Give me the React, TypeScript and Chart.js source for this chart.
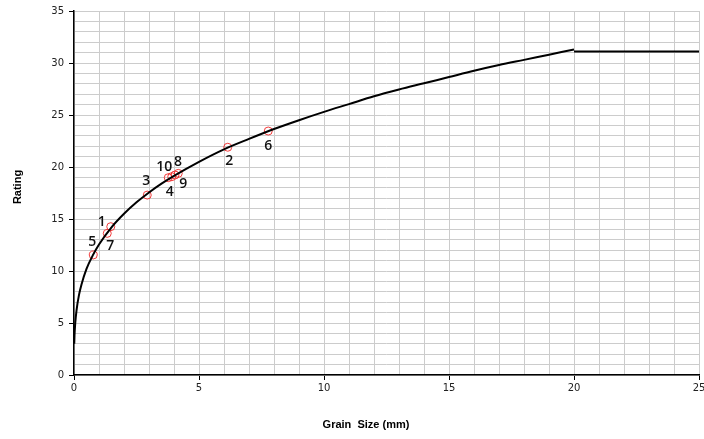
import React, { useEffect, useRef } from "react";
import { Chart, registerables } from "chart.js";

Chart.register(...registerables);

// Fitted curve
const curveX = [0.01, 0.02, 0.05, 0.1, 0.2, 0.3, 0.5, 0.75, 1, 1.5, 2, 2.5, 3, 3.5, 4, 5, 6, 7, 8, 9, 10, 11, 12, 13, 14, 15, 16, 17, 18, 19, 20];
const curveY = [3.0, 3.8, 5.0, 6.2, 7.7, 8.7, 10.2, 11.5, 12.55, 14.2, 15.5, 16.6, 17.55, 18.4, 19.15, 20.5, 21.7, 22.7, 23.65, 24.5, 25.3, 26.05, 26.8, 27.45, 28.05, 28.65, 29.25, 29.8, 30.3, 30.8, 31.3];

// Flat segment after 20 mm
const flatX = [20, 25];
const flatY = [31.1, 31.1];

// Sample points
const sampleLabels = ["1", "2", "3", "4", "5", "6", "7", "8", "9", "10"];
const sampleX = [1.47, 6.15, 2.93, 3.91, 0.77, 7.77, 1.33, 4.04, 4.17, 3.77];
const sampleY = [14.26, 21.9, 17.3, 19.07, 11.54, 23.46, 13.62, 19.23, 19.39, 18.97];
// label placement (style): [dx, dy, align]
const labelPlace: [number, number, CanvasTextAlign][] = [
  [-5, -5, "right"],
  [1.5, 14, "center"],
  [-1, -14, "center"],
  [-2, 15, "center"],
  [-1, -13, "center"],
  [0, 15, "center"],
  [-1, 12.5, "left"],
  [-1, -13, "left"],
  [1, 11, "left"],
  [4, -11, "right"],
];

const xTicks = [0, 5, 10, 15, 20, 25];
const yTicks = [0, 5, 10, 15, 20, 25, 30, 35];
const xTitle = "Grain  Size (mm)";
const yTitle = "Rating";

export default function App() {
  const ref = useRef<HTMLCanvasElement | null>(null);

  useEffect(() => {
    document.body.style.margin = "0";
    const canvas = ref.current;
    if (!canvas) return;

    const labelPlugin = {
      id: "sampleLabels",
      afterDatasetsDraw(chart: any) {
        const { ctx, scales } = chart;
        ctx.save();
        ctx.font = "600 14px 'Open Sans'";
        ctx.fillStyle = "#111";
        ctx.textBaseline = "middle";
        sampleLabels.forEach((lab, i) => {
          const px = scales.x.getPixelForValue(sampleX[i]);
          const py = scales.y.getPixelForValue(sampleY[i]);
          const [dx, dy, align] = labelPlace[i];
          ctx.textAlign = align;
          ctx.fillText(lab, px + dx, py + dy);
        });
        // axis titles
        ctx.font = "bold 11px 'Liberation Sans'";
        ctx.fillStyle = "#000";
        ctx.textAlign = "center";
        ctx.fillText(xTitle, 366, 425);
        ctx.translate(18, 187);
        ctx.rotate(-Math.PI / 2);
        ctx.fillText(yTitle, 0, 0);
        ctx.restore();
      },
    };

    const majorTick = (ctx: any) =>
      ctx.tick && ctx.tick.value % 5 === 0 ? "#000" : "rgba(0,0,0,0)";

    const chart = new Chart(canvas, {
      type: "scatter",
      data: {
        datasets: [
          {
            data: curveX.map((x, i) => ({ x, y: curveY[i] })),
            showLine: true,
            borderColor: "#000",
            borderWidth: 2,
            pointRadius: 0,
            tension: 0.4,
            cubicInterpolationMode: "monotone",
          },
          {
            data: flatX.map((x, i) => ({ x, y: flatY[i] })),
            showLine: true,
            borderColor: "#000",
            borderWidth: 2,
            pointRadius: 0,
          },
          {
            data: sampleX.map((x, i) => ({ x, y: sampleY[i] })),
            showLine: false,
            pointRadius: 4,
            pointBorderWidth: 1,
            pointBorderColor: "rgba(240,40,40,0.9)",
            pointBackgroundColor: "rgba(0,0,0,0)",
          },
        ],
      },
      options: {
        animation: false,
        responsive: false,
        maintainAspectRatio: false,
        layout: { padding: { left: 0, right: 4, top: 11, bottom: 0 } },
        plugins: { legend: { display: false }, tooltip: { enabled: false } },
        scales: {
          x: {
            type: "linear",
            min: 0,
            max: 25,
            afterBuildTicks: (s: any) => {
              s.ticks = Array.from({ length: 26 }, (_, i) => ({ value: i }));
            },
            afterFit: (s: any) => {
              s.height = 64;
              s.paddingRight = 0;
              s.paddingLeft = 0;
            },
            ticks: {
              autoSkip: false,
              maxRotation: 0,
              padding: 2,
              color: "#222",
              font: { family: "'DejaVu Sans'", size: 10 },
              callback: (v: any) => (xTicks.includes(Number(v)) ? String(v) : ""),
            },
            grid: {
              color: "#cccccc",
              lineWidth: 1,
              tickLength: 5,
              tickColor: majorTick,
            },
            border: { color: "#000", width: 1.5 },
          },
          y: {
            type: "linear",
            min: 0,
            max: 35,
            afterBuildTicks: (s: any) => {
              s.ticks = Array.from({ length: 36 }, (_, i) => ({ value: i }));
            },
            afterFit: (s: any) => {
              s.width = 74;
              s.paddingTop = 0;
              s.paddingBottom = 0;
            },
            ticks: {
              autoSkip: false,
              padding: 5,
              color: "#222",
              font: { family: "'DejaVu Sans'", size: 10 },
              callback: (v: any) => (yTicks.includes(Number(v)) ? String(v) : ""),
            },
            grid: {
              color: "#cccccc",
              lineWidth: 1,
              tickLength: 5,
              tickColor: majorTick,
            },
            border: { color: "#000", width: 1.5 },
          },
        },
      },
      plugins: [labelPlugin],
    });

    return () => chart.destroy();
  }, []);

  return (
    <div style={{ width: 704, height: 439, background: "#fff" }}>
      <canvas ref={ref} width={704} height={439} style={{ display: "block" }} />
    </div>
  );
}
